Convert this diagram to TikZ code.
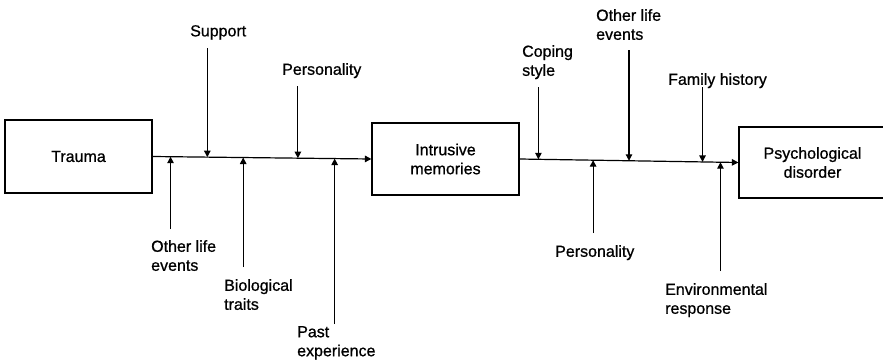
\documentclass[tikz,border=0pt]{standalone}
\usepackage{fontspec}
\setmainfont[FakeBold=0.8]{Liberation Sans}
\usetikzlibrary{calc,arrows.meta}

\tikzset{
  box/.style={draw, line width=1.2pt, rectangle, inner sep=0pt, align=center,
              font=\fontsize{16}{19}\selectfont},
  factor/.style={inner sep=0pt, anchor=north west, align=left,
                 font=\fontsize{16}{19}\selectfont},
  flow/.style={line width=1.2pt, -{Triangle[length=6.5pt,width=6.5pt]}},
  influence/.style={line width=1.2pt, -{Triangle[length=6.5pt,width=6.5pt]}}
}

\begin{document}
\begin{tikzpicture}[x=1pt,y=-1pt]
\useasboundingbox (0,0) rectangle (883,362);

% stages
\node[box, minimum width=147pt, minimum height=73pt] (t) at (78.5,156.5) {Trauma};
\node[box, minimum width=147pt, minimum height=72pt] (i) at (445.5,159) {Intrusive\\memories};
\node[box, minimum width=147pt, minimum height=71pt] (p) at (812.5,162.5) {Psychological\\disorder};

% main flow
\draw[flow] (t.east) -- (i.west);
\draw[flow] (i.east) -- (p.west);

% junction points on the first stage line
\coordinate (a1) at ($(t.east)!0.082!(i.west)$);
\coordinate (a2) at ($(t.east)!0.250!(i.west)$);
\coordinate (a3) at ($(t.east)!0.414!(i.west)$);
\coordinate (a4) at ($(t.east)!0.664!(i.west)$);
\coordinate (a5) at ($(t.east)!0.832!(i.west)$);

% junction points on the second stage line
\coordinate (b1) at ($(i.east)!0.086!(p.west)$);
\coordinate (b2) at ($(i.east)!0.336!(p.west)$);
\coordinate (b3) at ($(i.east)!0.500!(p.west)$);
\coordinate (b4) at ($(i.east)!0.836!(p.west)$);
\coordinate (b5) at ($(i.east)!0.918!(p.west)$);

% factor labels
\node[factor] (support) at (190,25) {Support};
\node[factor] (pers1) at (282,63) {Personality};
\node[factor] (ole1) at (151,240) {Other life\\events};
\node[factor] (bio) at (224,279) {Biological\\traits};
\node[factor] (past) at (297,326) {Past\\experience};

\node[factor] (coping) at (522,45) {Coping\\style};
\node[factor] (ole2) at (596,9) {Other life\\events};
\node[factor] (family) at (668,73) {Family history};
\node[factor] (pers2) at (555,245) {Personality};
\node[factor] (env) at (665,283) {Environmental\\response};

% free ends of the influence lines
\coordinate (a1e) at (a1 |- 0,229);
\coordinate (a2e) at (a2 |- 0,48);
\coordinate (a3e) at (a3 |- 0,267);
\coordinate (a4e) at (a4 |- 0,86);
\coordinate (a5e) at (a5 |- 0,324);
\coordinate (b1e) at (b1 |- 0,87);
\coordinate (b2e) at (b2 |- 0,233);
\coordinate (b3e) at (b3 |- 0,50);
\coordinate (b4e) at (b4 |- 0,87);
\coordinate (b5e) at (b5 |- 0,271);

% influences
\draw[influence] (a1e) -- (a1);
\draw[influence] (a2e) -- (a2);
\draw[influence] (a3e) -- (a3);
\draw[influence] (a4e) -- (a4);
\draw[influence] (a5e) -- (a5);
\draw[influence] (b1e) -- (b1);
\draw[influence] (b2e) -- (b2);
\draw[influence] (b3e) -- (b3);
\draw[influence] (b4e) -- (b4);
\draw[influence] (b5e) -- (b5);
\end{tikzpicture}
\end{document}
